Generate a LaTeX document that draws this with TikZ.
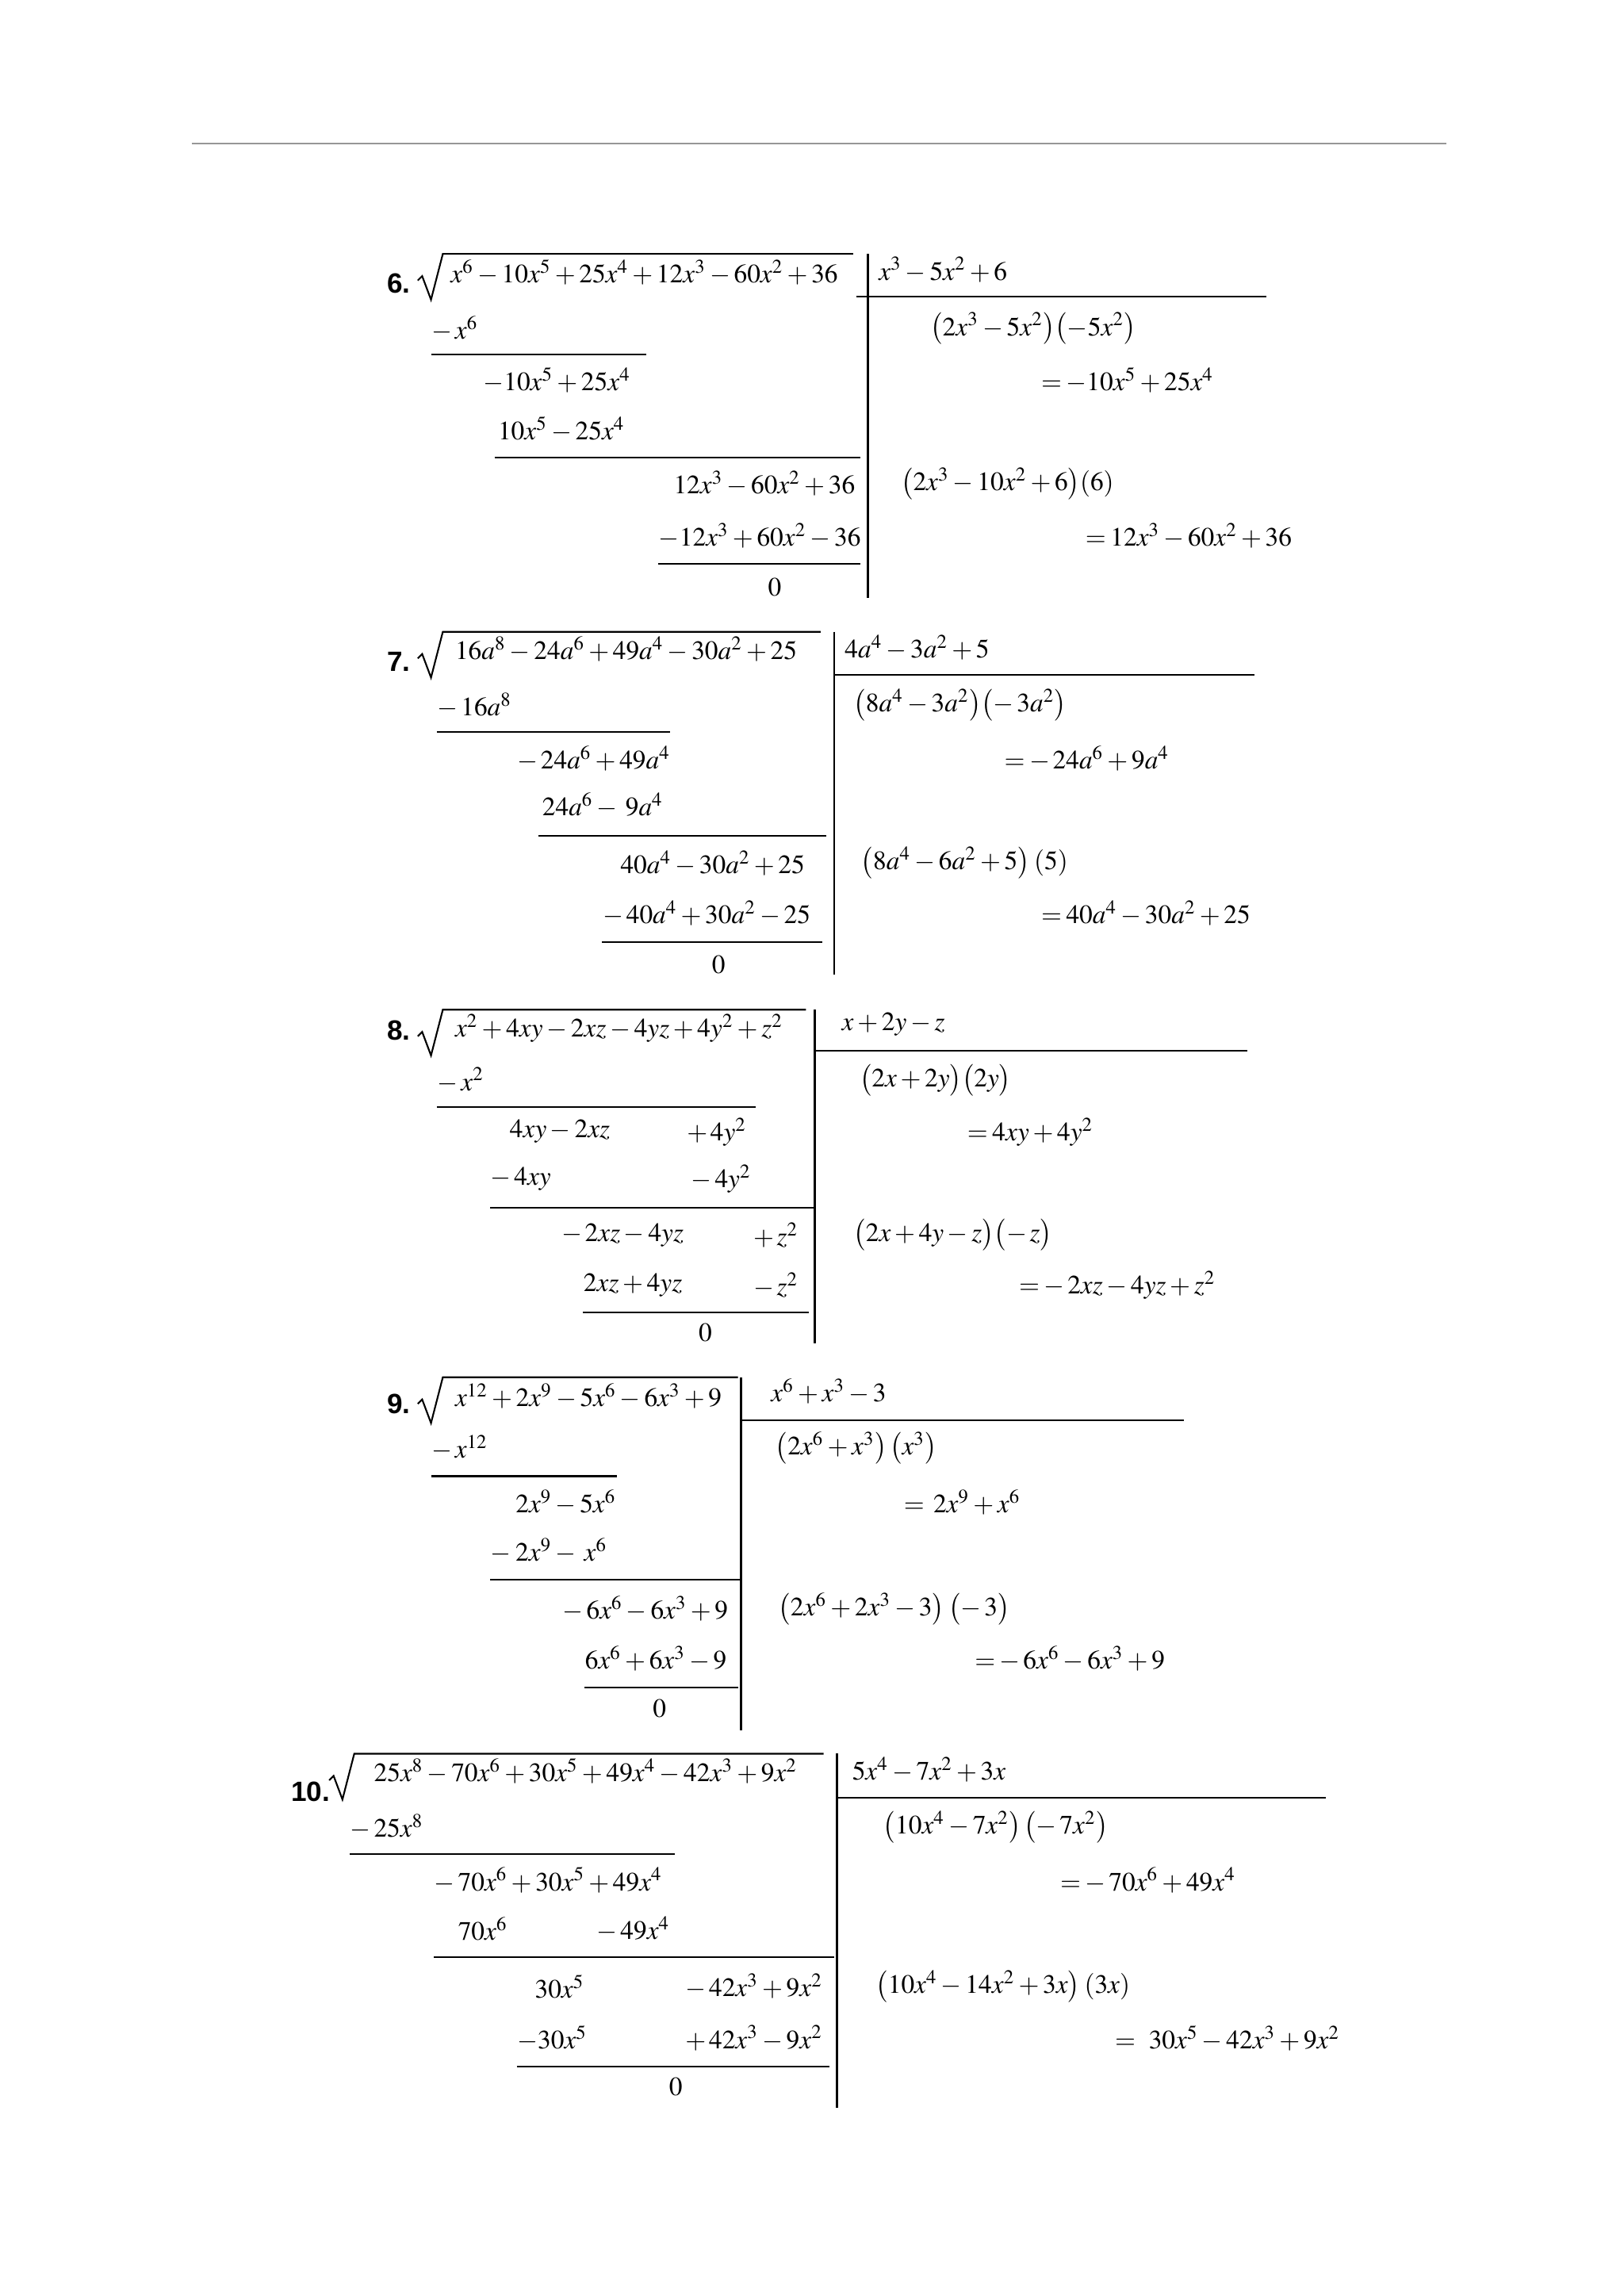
\documentclass[tikz,border=0pt]{standalone}
\usepackage{mathptmx}
\usepackage{fontspec}
\newfontfamily\numfont{Liberation Sans}
\usetikzlibrary{positioning,calc}
\definecolor{rulegray}{RGB}{150,150,150}
\medmuskip=2.5mu plus 1mu minus 1mu
\thickmuskip=3mu plus 1mu
\tikzset{
  expr/.style={anchor=west, inner sep=0pt, yshift=0.08cm, font=\fontsize{9.5}{11}\selectfont},
  num/.style={anchor=west, inner sep=0pt, font=\numfont\bfseries\fontsize{10}{12}\selectfont},
  rule/.style={line width=0.6pt},
}
% radical sign: x position, overline y, overline end
\newcommand{\radsign}[3]{%
  \draw[line width=0.6pt] (#1-7,#2+18) -- (#1-4,#2+15) -- (#1+2,#2+31) -- (#1+10,#2) -- (#3,#2);}
\begin{document}
\begin{tikzpicture}[x=0.01862cm, y=-0.01862cm]
  \useasboundingbox (0,0) rectangle (1100,1552);
  \draw[rulegray, line width=0.6pt] (130,97) -- (980,97);

  % Problem 6
  \node[num] (n6) at (262,192) {6.};
  \radsign{290}{172}{578}
  \node[expr] (r6) at (305,189) {$x^6-10x^5+25x^4+12x^3-60x^2+36$};
  \draw[rule] (588,172) -- (588,405);
  \draw[rule] (580,201) -- (858,201);
  \node[expr] (q6) at (595,187) {$x^3-5x^2+6$};
  \node[expr] (a6) at (292,227) {$-\,x^6$};
  \draw[rule] (292,240) -- (438,240);
  \node[expr] (b6) at (327,262) {$-10x^5+25x^4$};
  \node[expr] (c6) at (337,295) {$10x^5-25x^4$};
  \draw[rule] (335,310) -- (583,310);
  \node[expr] (d6) at (456,332) {$12x^3-60x^2+36$};
  \node[expr] (e6) at (446,367) {$-12x^3+60x^2-36$};
  \draw[rule] (446,382) -- (583,382);
  \node[expr] (z6) at (520,402) {$0$};
  \node[expr] (p6) at (630,227) {$\bigl(2x^3-5x^2\bigr)\bigl(-5x^2\bigr)$};
  \node[expr] (s6) at (705,262) {$=-10x^5+25x^4$};
  \node[expr] (t6) at (610,332) {$\bigl(2x^3-10x^2+6\bigr)(6)$};
  \node[expr] (u6) at (735,367) {$=12x^3-60x^2+36$};

  % Problem 7
  \node[num] (n7) at (262,448) {7.};
  \radsign{290}{428}{556}
  \node[expr] (r7) at (308,444) {$16a^8-24a^6+49a^4-30a^2+25$};
  \draw[rule] (565,428) -- (565,660);
  \draw[rule] (565,457) -- (850,457);
  \node[expr] (q7) at (572,443) {$4a^4-3a^2+5$};
  \node[expr] (a7) at (296,482) {$-\,16a^8$};
  \draw[rule] (296,496) -- (454,496);
  \node[expr] (b7) at (350,518) {$-\,24a^6+49a^4$};
  \node[expr] (c7) at (367,550) {$24a^6-\;9a^4$};
  \draw[rule] (365,566) -- (560,566);
  \node[expr] (d7) at (420,589) {$40a^4-30a^2+25$};
  \node[expr] (e7) at (408,623) {$-\,40a^4+30a^2-25$};
  \draw[rule] (408,638) -- (557,638);
  \node[expr] (z7) at (482,658) {$0$};
  \node[expr] (p7) at (578,482) {$\bigl(8a^4-3a^2\bigr)\bigl(-\,3a^2\bigr)$};
  \node[expr] (s7) at (680,518) {$=-\,24a^6+9a^4$};
  \node[expr] (t7) at (583,589) {$\bigl(8a^4-6a^2+5\bigr)\;(5)$};
  \node[expr] (u7) at (705,623) {$=40a^4-30a^2+25$};

  % Problem 8
  \node[num] (n8) at (262,698) {8.};
  \radsign{290}{684}{546}
  \node[expr] (r8) at (308,701) {$x^2+4xy-2xz-4yz+4y^2+z^2$};
  \draw[rule] (552,684) -- (552,910);
  \draw[rule] (552,712) -- (845,712);
  \node[expr] (q8) at (570,698) {$x+2y-z$};
  \node[expr] (a8) at (296,736) {$-\,x^2$};
  \draw[rule] (296,750) -- (512,750);
  \node[expr] (b8) at (345,771) {$4xy-2xz$};
  \node[expr] (b8r) at (465,771) {$+\,4y^2$};
  \node[expr] (c8) at (332,803) {$-\,4xy$};
  \node[expr] (c8r) at (468,803) {$-\,4y^2$};
  \draw[rule] (332,818) -- (552,818);
  \node[expr] (d8) at (380,841) {$-\,2xz-4yz$};
  \node[expr] (d8r) at (510,841) {$+\,z^2$};
  \node[expr] (e8) at (395,875) {$2xz+4yz$};
  \node[expr] (e8r) at (510,875) {$-\,z^2$};
  \draw[rule] (395,889) -- (548,889);
  \node[expr] (z8) at (473,907) {$0$};
  \node[expr] (p8) at (582,736) {$\bigl(2x+2y\bigr)\bigl(2y\bigr)$};
  \node[expr] (s8) at (655,771) {$=4xy+4y^2$};
  \node[expr] (t8) at (578,841) {$\bigl(2x+4y-z\bigr)\bigl(-\,z\bigr)$};
  \node[expr] (u8) at (690,875) {$=-\,2xz-4yz+z^2$};

  % Problem 9
  \node[num] (n9) at (262,951) {9.};
  \radsign{290}{933}{500}
  \node[expr] (r9) at (308,950) {$x^{12}+2x^9-5x^6-6x^3+9$};
  \draw[rule] (502,933) -- (502,1172);
  \draw[rule] (502,962) -- (802,962);
  \node[expr] (q9) at (522,947) {$x^6+x^3-3$};
  \node[expr] (a9) at (292,985) {$-\,x^{12}$};
  \draw[rule] (292,1000) -- (418,1000);
  \node[expr] (b9) at (349,1022) {$2x^9-5x^6$};
  \node[expr] (c9) at (332,1055) {$-\;2x^9-\;x^6$};
  \draw[rule] (332,1070) -- (502,1070);
  \node[expr] (d9) at (381,1094) {$-\,6x^6-6x^3+9$};
  \node[expr] (e9) at (396,1128) {$6x^6+6x^3-9$};
  \draw[rule] (396,1143) -- (500,1143);
  \node[expr] (z9) at (442,1162) {$0$};
  \node[expr] (p9) at (525,985) {$\bigl(2x^6+x^3\bigr)\,\bigl(x^3\bigr)$};
  \node[expr] (s9) at (612,1022) {$=\;2x^9+x^6$};
  \node[expr] (t9) at (527,1094) {$\bigl(2x^6+2x^3-3\bigr)\;\bigl(-\,3\bigr)$};
  \node[expr] (u9) at (660,1128) {$=-\,6x^6-6x^3+9$};

  % Problem 10
  \node[num] (n10) at (197,1214) {10.};
  \radsign{230}{1188}{558}
  \node[expr] (r10) at (253,1204) {$25x^8-70x^6+30x^5+49x^4-42x^3+9x^2$};
  \draw[rule] (567,1188) -- (567,1428);
  \draw[rule] (567,1218) -- (898,1218);
  \node[expr] (q10) at (577,1203) {$5x^4-7x^2+3x$};
  \node[expr] (a10) at (237,1242) {$-\,25x^8$};
  \draw[rule] (237,1256) -- (457,1256);
  \node[expr] (b10) at (294,1278) {$-\,70x^6+30x^5+49x^4$};
  \node[expr] (c10) at (310,1311) {$70x^6$};
  \node[expr] (c10r) at (404,1311) {$-\,49x^4$};
  \draw[rule] (294,1326) -- (565,1326);
  \node[expr] (d10) at (362,1350) {$30x^5$};
  \node[expr] (d10r) at (464,1350) {$-\,42x^3+9x^2$};
  \node[expr] (e10) at (350,1385) {$-30x^5$};
  \node[expr] (e10r) at (464,1385) {$+\,42x^3-9x^2$};
  \draw[rule] (350,1400) -- (562,1400);
  \node[expr] (z10) at (453,1418) {$0$};
  \node[expr] (p10) at (598,1242) {$\bigl(10x^4-7x^2\bigr)\,\bigl(-\,7x^2\bigr)$};
  \node[expr] (s10) at (718,1278) {$=-\,70x^6+49x^4$};
  \node[expr] (t10) at (593,1350) {$\bigl(10x^4-14x^2+3x\bigr)\;(3x)$};
  \node[expr] (u10) at (755,1385) {$=\;\;30x^5-42x^3+9x^2$};
\end{tikzpicture}
\end{document}
